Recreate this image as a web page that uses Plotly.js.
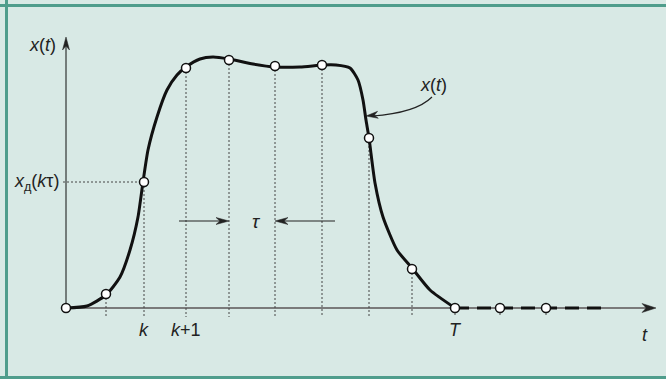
<!DOCTYPE html>
<html><head><meta charset="utf-8">
<script src="https://cdn.plot.ly/plotly-3.0.1.min.js"></script>
<style>html,body{margin:0;padding:0;background:#d8e9e5}</style>
</head><body><div id="chart" style="width:666px;height:379px"></div>
<script>
// Continuous signal x(t) (t, x)
const curveT = [0, 21, 40, 54, 64, 72, 77, 82, 91, 101, 111, 120, 134, 147, 163, 187, 209, 234, 257, 270, 284, 292, 297, 300, 303, 309, 317, 331, 346, 364, 389];
const curveX = [0, 2, 13, 31, 58, 91, 126, 158, 191, 218, 233, 241, 249, 251, 249, 244, 241, 241, 243, 243, 240, 228, 208, 188, 170, 125, 91, 58, 40, 18, 0];
// Samples x_д(kτ)
const sampleT = [0, 40, 78, 120, 163, 209, 256, 303, 346, 389, 434, 480];
const sampleX = [0, 14, 126, 240, 248, 242, 243, 170, 39, 0, 0, 0];
// Zero continuation after T
const tailT = [389, 539];
const tailX = [0, 0];
const tickLabels = [{t: 78, text: '<i>k</i>'}, {t: 120, text: '<i>k</i>+1'}, {t: 389, text: '<i>T</i>'}];

const ink = '#222';
const dotted = {color: '#444', width: 1, dash: '2px,2px'};
const shapes = [];
function seg(x0, y0, x1, y1, line) { shapes.push({type: 'line', x0: x0, y0: y0, x1: x1, y1: y1, line: line, layer: 'below'}); }
// barbed arrow head at (x,y) pointing along (dx,dy)
function head(x, y, dx, dy, len, half) {
  const n = Math.hypot(dx, dy); const ux = dx / n, uy = dy / n; const px = -uy, py = ux;
  const bx = x - ux * len, by = y - uy * len;
  const nx = x - ux * len * 0.7, ny = y - uy * len * 0.7;
  const p = 'M ' + x + ' ' + y + ' L ' + (bx + px * half) + ' ' + (by + py * half) + ' L ' + nx + ' ' + ny +
            ' L ' + (bx - px * half) + ' ' + (by - py * half) + ' Z';
  shapes.push({type: 'path', path: p, fillcolor: ink, line: {color: ink, width: 0.5}});
}
seg(0, 0, 585, 0, {color: '#7a7a7a', width: 2});
seg(0, 0, 0, 265, {color: '#111', width: 1});
head(590, 0, 1, 0, 14, 4.5);
head(0, 271, 0, 1, 13, 3.5);
sampleT.forEach((t, i) => {
  if (i === 0) return;
  const top = sampleX[i] > 0 ? sampleX[i] : -1;
  seg(t, top, t, -9, dotted);
});
seg(-3, sampleX[2], sampleT[2], sampleX[2], dotted);
// τ interval arrows
seg(113, 87, sampleT[4] - 4, 87, {color: ink, width: 1.2});
head(sampleT[4], 87, 1, 0, 13, 3.5);
seg(269, 87, sampleT[5] + 4, 87, {color: ink, width: 1.2});
head(sampleT[5], 87, -1, 0, 13, 3.5);
// curved pointer to the curve
shapes.push({type: 'path', path: 'M 366 211 Q 350 195 306 192', line: {color: ink, width: 1.2}});
head(300, 192, -1, -0.1, 12, 3.5);
// border
const bc = '#4f9d8c';
shapes.push({type: 'line', xref: 'paper', yref: 'paper', x0: 6.5/666, x1: 6.5/666, y0: 0, y1: 1, line: {color: bc, width: 3}});
shapes.push({type: 'line', xref: 'paper', yref: 'paper', x0: 0, x1: 1, y0: 1 - 5.5/379, y1: 1 - 5.5/379, line: {color: bc, width: 3}});
shapes.push({type: 'line', xref: 'paper', yref: 'paper', x0: 0, x1: 1, y0: 1.5/379, y1: 1.5/379, line: {color: bc, width: 3}});

const font = {family: 'Liberation Sans, Arial, sans-serif', size: 18, color: ink};
const ann = [];
function label(x, y, text, opts) {
  ann.push(Object.assign({x: x, y: y, text: text, showarrow: false, font: font, xanchor: 'center', yanchor: 'middle'}, opts || {}));
}
label(-24, 263, '<i>x</i>(<i>t</i>)');
label(-5, 126, '<i>x</i><sub>д</sub>(<i>k</i>τ)', {xanchor: 'right'});
tickLabels.forEach(tl => label(tl.t, -22, tl.text));
label(579, -27, '<i>t</i>');
label(190, 87, '<i>τ</i>', {font: Object.assign({}, font, {size: 19})});
label(367, 223, '<i>x</i>(<i>t</i>)');

const data = [
  {x: curveT, y: curveX, mode: 'lines', line: {color: '#111', width: 3, shape: 'spline', smoothing: 0.6}, hoverinfo: 'skip'},
  {x: tailT, y: tailX, mode: 'lines', line: {color: '#111', width: 3, dash: '14px,8px'}, hoverinfo: 'skip'},
  {x: sampleT, y: sampleX, mode: 'markers', marker: {size: 9, color: '#fff', line: {color: '#111', width: 1.5}}, hoverinfo: 'skip'}
];

const layout = {
  width: 666, height: 379,
  margin: {l: 0, r: 0, t: 0, b: 0},
  paper_bgcolor: '#d8e9e5', plot_bgcolor: '#d8e9e5',
  showlegend: false,
  xaxis: {range: [-66, 600], visible: false, fixedrange: true},
  yaxis: {range: [-71, 308], visible: false, fixedrange: true},
  shapes: shapes,
  annotations: ann
};
Plotly.newPlot('chart', data, layout, {staticPlot: true});
</script></body></html>
